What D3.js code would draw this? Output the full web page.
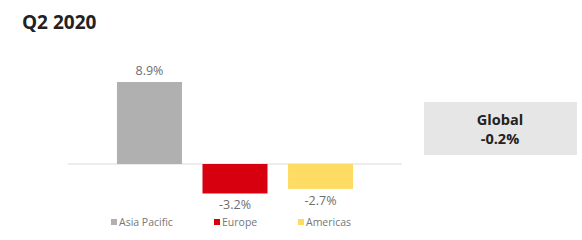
<!DOCTYPE html>
<html><head><meta charset="utf-8">
<script src="https://cdn.jsdelivr.net/npm/d3@7"></script>
<style>body{margin:0;background:#fff}svg{display:block}</style>
</head><body>
<svg id="c" width="582" height="240"></svg>
<script>
const title = "Q2 2020";
const categories = ["Asia Pacific", "Europe", "Americas"];
const values = [8.9, -3.2, -2.7];
const labels = ["8.9%", "-3.2%", "-2.7%"];
const colors = ["#b0b0b0", "#d7000f", "#fedc63"];
const globalLabel = ["Global", "-0.2%"];

const svg = d3.select("#c");
const x = d3.scaleBand().domain(categories).range([106.7, 363.3]).paddingInner(0.24).paddingOuter(0.12);
const y = d3.scaleLinear().domain([0, 8.9]).range([164, 82]);

svg.append("text").attr("x", 22).attr("y", 29).text(title)
  .attr("font-family", "Open Sans").attr("font-weight", 700).attr("font-size", 19).attr("fill", "#222");

svg.append("line").attr("x1", 68).attr("x2", 402).attr("y1", y(0)).attr("y2", y(0))
  .attr("stroke", "#dcdcdc").attr("stroke-width", 1.2);

svg.selectAll("rect.bar").data(categories).join("rect").attr("class", "bar")
  .attr("x", d => x(d)).attr("width", x.bandwidth())
  .attr("y", (d, i) => Math.min(y(values[i]), y(0)))
  .attr("height", (d, i) => Math.abs(y(values[i]) - y(0)))
  .attr("fill", (d, i) => colors[i]);

svg.selectAll("text.val").data(categories).join("text").attr("class", "val")
  .attr("x", d => x(d) + x.bandwidth() / 2)
  .attr("y", (d, i) => values[i] >= 0 ? y(values[i]) - 7 : y(values[i]) + 16)
  .attr("text-anchor", "middle").text((d, i) => labels[i])
  .attr("font-family", "Open Sans").attr("font-size", 12.5).attr("fill", "#6e6e6e");

const legX = [111, 214, 298];
const leg = svg.selectAll("g.leg").data(categories).join("g").attr("class", "leg")
  .attr("transform", (d, i) => `translate(${legX[i]},222)`);
leg.append("rect").attr("x", 0).attr("y", -3).attr("width", 6).attr("height", 6)
  .attr("fill", (d, i) => colors[i]);
leg.append("text").attr("x", 8).attr("y", 4).text(d => d)
  .attr("font-family", "Open Sans").attr("font-size", 10.5).attr("fill", "#777");

svg.append("rect").attr("x", 424).attr("y", 102).attr("width", 153).attr("height", 53).attr("fill", "#e6e6e6");
svg.selectAll("text.g").data(globalLabel).join("text").attr("class", "g")
  .attr("x", 500).attr("y", (d, i) => 125 + i * 19).attr("text-anchor", "middle").text(d => d)
  .attr("font-family", "Open Sans").attr("font-weight", 700).attr("font-size", 14.5).attr("fill", "#222");
</script>
</body></html>
